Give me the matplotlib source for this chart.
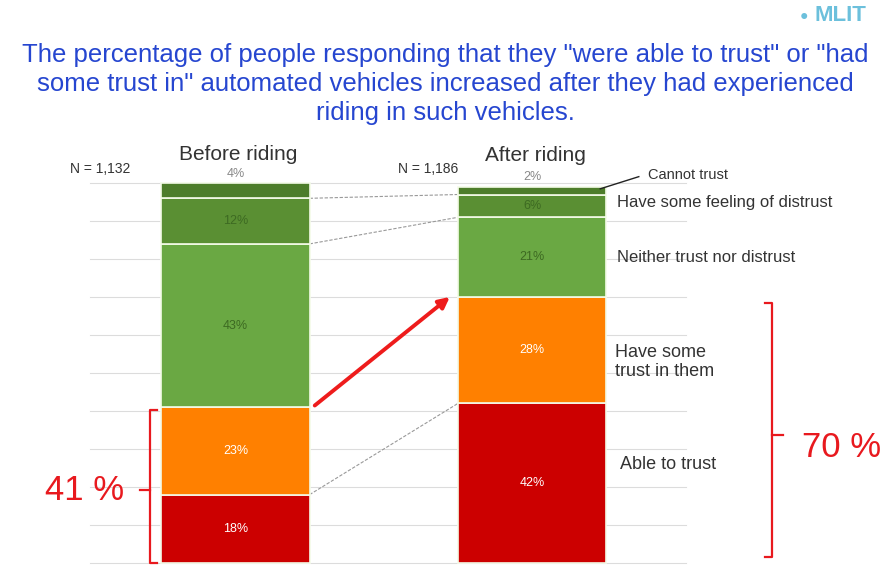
import matplotlib.pyplot as plt

# data
groups = ['Before riding', 'After riding']
n_labels = ['N = 1,132', 'N = 1,186']
categories = ['Able to trust', 'Have some trust in them', 'Neither trust nor distrust',
              'Have some feeling of distrust', 'Cannot trust']
before = [18, 23, 43, 12, 4]
after = [42, 28, 21, 6, 2]
totals = ['41 %', '70 %']

colors = ['#cc0000', '#ff8000', '#6aa843', '#5a8f33', '#4d7d2a']
label_colors = ['white', 'white', '#3d6a22', '#3d6a22', '#888888']

plt.rcParams['font.family'] = ['Liberation Sans', 'DejaVu Sans']

fig = plt.figure(figsize=(8.9, 5.66), dpi=100)
ax = fig.add_axes([0, 0, 1, 1])
ax.set_xlim(-0.794, 2.207)
ax.set_ylim(-0.79, 148.2)
ax.axis('off')

# light gridlines behind the bars
for g in range(0, 101, 10):
    ax.plot([-0.49, 1.52], [g, g], color='#dcdcdc', lw=0.8, zorder=0)

xpos = [0, 1]
w = 0.5
for x, vals in zip(xpos, [before, after]):
    bottom = 0
    for i, v in enumerate(vals):
        ax.bar(x, v, width=w, bottom=bottom, color=colors[i],
               edgecolor='#f4fbe8', linewidth=1.2, zorder=2)
        if v >= 5:
            ax.text(x, bottom + v / 2, f'{v}%', ha='center', va='center',
                    fontsize=9, color=label_colors[i], zorder=3)
        else:
            ax.text(x, bottom + v + 2.5, f'{v}%', ha='center', va='center',
                    fontsize=9, color='#888888', zorder=3)
        bottom += v

# connectors between the bars
cb = [sum(before[:k]) for k in range(1, 5)]
ca = [sum(after[:k]) for k in range(1, 5)]
for k in [0, 2, 3]:
    ax.plot([w / 2, 1 - w / 2], [cb[k], ca[k]], color='#999999', lw=0.8,
            ls=(0, (3, 1.5)), zorder=1)
ax.annotate('', xy=(1 - w / 2 - 0.02, ca[1] + 0.5), xytext=(w / 2 + 0.01, cb[1]),
            arrowprops=dict(arrowstyle='-|>', color='#ee1c1c', lw=2.8,
                            mutation_scale=16), zorder=4)

# group headings and N
ax.text(0.01, 107.6, groups[0], ha='center', va='center', fontsize=15, color='#333333')
ax.text(1.01, 107.2, groups[1], ha='center', va='center', fontsize=15, color='#333333')
ax.text(-0.557, 103.6, n_labels[0], ha='left', va='center', fontsize=10, color='#333333')
ax.text(0.548, 103.6, n_labels[1], ha='left', va='center', fontsize=10, color='#333333')

# category labels on the right
ax.plot([1 + w / 2 - 0.02, 1.36], [sum(after) - 0.5, 101.7], color='#222222', lw=1)
ax.text(1.39, 102.1, categories[4], ha='left', va='center', fontsize=10.5, color='#333333')
ax.text(1.287, 95, categories[3], ha='left', va='center', fontsize=12, color='#333333')
ax.text(1.287, 80.5, categories[2], ha='left', va='center', fontsize=12, color='#333333')
ax.text(1.28, 52.9, 'Have some\ntrust in them', ha='left', va='center', fontsize=13,
        color='#333333', linespacing=1.1)
ax.text(1.297, 25.8, categories[0], ha='left', va='center', fontsize=13, color='#333333')

# brackets
red = '#e8191e'
bx, y0, y1 = -0.288, 0, 40.3
ax.plot([bx + 0.025, bx, bx, bx + 0.025], [y1, y1, y0, y0], color=red, lw=1.6)
ax.plot([bx, bx - 0.035], [19.2, 19.2], color=red, lw=1.6)
ax.text(-0.51, 19.2, totals[0], ha='center', va='center', fontsize=25, color=red)

bx, y0, y1 = 1.81, 1.6, 68.4
ax.plot([bx - 0.025, bx, bx, bx - 0.025], [y1, y1, y0, y0], color=red, lw=1.6)
ax.plot([bx, bx + 0.035], [33.7, 33.7], color=red, lw=1.6)
ax.text(2.045, 30.5, totals[1], ha='center', va='center', fontsize=25, color=red)

# title and logo
fig.text(0.5, 0.851,
         'The percentage of people responding that they "were able to trust" or "had\n'
         'some trust in" automated vehicles increased after they had experienced\n'
         'riding in such vehicles.',
         ha='center', va='center', fontsize=18.5, color='#2646d0', linespacing=1.27)
fig.text(0.915, 0.972, 'MLIT', ha='left', va='center', fontsize=16,
         fontweight='bold', color='#6cc0dc')
fig.text(0.903, 0.972, '\u25cf', ha='center', va='center', fontsize=10, color='#6cc0dc')

fig.savefig('out.png', dpi=100)
